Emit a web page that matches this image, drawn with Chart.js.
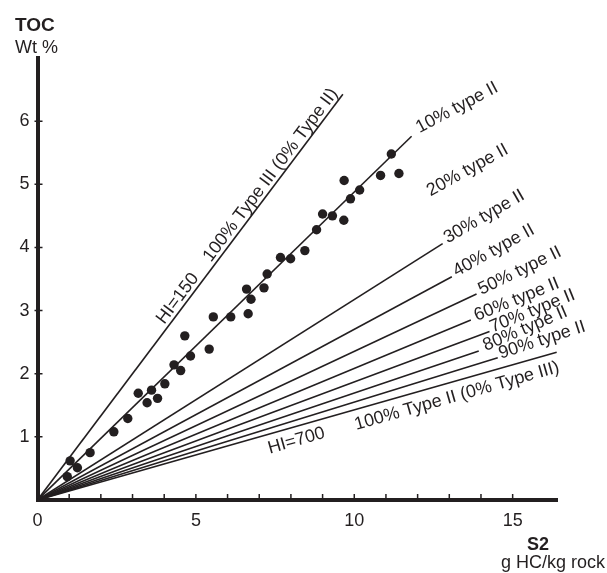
<!DOCTYPE html>
<html>
<head>
<meta charset="utf-8">
<script src="https://cdn.jsdelivr.net/npm/chart.js@4.4.1/dist/chart.umd.min.js"></script>
<style>
  body { margin: 0; background: #fff; }
</style>
</head>
<body>
<canvas id="hiChart" width="607" height="573"></canvas>
<script>
// samples: S2 (g HC/kg rock) and TOC (wt %)
const sampleS2 = [0.94, 1.03, 1.26, 1.66, 2.41, 2.85, 3.18, 3.60, 3.46, 3.79, 4.02, 4.31,
  4.52, 4.83, 4.65, 5.42, 5.55, 6.10, 6.65, 6.74, 6.60, 7.15, 7.25, 7.67, 7.99, 8.44,
  8.81, 9.00, 9.31, 9.67, 9.88, 10.17, 9.68, 10.83, 11.41, 11.17];
const sampleTOC = [0.37, 0.62, 0.51, 0.75, 1.08, 1.29, 1.69, 1.74, 1.54, 1.61, 1.84, 2.14,
  2.05, 2.28, 2.60, 2.39, 2.90, 2.90, 2.95, 3.18, 3.34, 3.36, 3.58, 3.84, 3.82, 3.95,
  4.28, 4.53, 4.50, 4.43, 4.77, 4.91, 5.06, 5.14, 5.17, 5.48];

// HI lines (mix of type II and type III kerogen) and where each one stops
const lineHI = [150, 205, 315, 370, 425, 480, 535, 590, 645, 700];
const lineEndS2 = [9.64, 11.81, 12.79, 13.08, 13.86, 13.68, 14.27, 13.93, 14.53, 16.39];

// labels at the line ends
const typeLabels = ["10% type II", "20% type II", "30% type II", "40% type II", "50% type II",
  "60% type II", "70% type II", "80% type II", "90% type II"];
const typeLabelHI = [205, 260, 315, 370, 425, 480, 535, 590, 645];
const typeLabelS2 = [11.81, 12.25, 12.79, 13.08, 13.86, 13.68, 14.27, 13.93, 14.53];

// labels running along the two outer lines
const edgeLabels = ["HI=150", "100% Type III (0% Type II)", "HI=700", "100% Type II (0% Type III)"];
const edgeLabelHI = [150, 150, 700, 700];

const xTickLabels = [0, 5, 10, 15];
const yTickLabels = [1, 2, 3, 4, 5, 6];

const FONT = '"Liberation Sans", Arial, Helvetica, sans-serif';
const INK = "#231f20";

// offsets in px, angles in degrees
const typePlacement = [
  { dx: 8, dy: -3, angle: 28 },
  { dx: 5, dy: -6, angle: 29 },
  { dx: 5, dy: 0, angle: 30 },
  { dx: 5, dy: 0, angle: 29 },
  { dx: 5, dy: 1, angle: 26 },
  { dx: 6, dy: 1, angle: 22 },
  { dx: 3, dy: 1, angle: 22 },
  { dx: 7, dy: 0, angle: 23 },
  { dx: 3, dy: 1, angle: 18 },
];
const edgePlacement = [
  { from: "start", along: 216, perp: 4, align: "left" },
  { from: "end", along: -2, perp: 4, align: "right" },
  { from: "start", along: 236, perp: -19, align: "left" },
  { from: "end", along: -2, perp: -20, align: "right" },
];

const points = sampleS2.map((s, i) => ({ x: s, y: sampleTOC[i] }));

const lineSets = lineHI.map((hi, i) => ({
  data: [{ x: 0, y: 0 }, { x: lineEndS2[i], y: lineEndS2[i] * 100 / hi }],
  showLine: true,
  borderColor: INK,
  borderWidth: 1.6,
  pointRadius: 0,
  fill: false,
}));

function px(chart, s2, toc) {
  return [chart.scales.x.getPixelForValue(s2), chart.scales.y.getPixelForValue(toc)];
}

const tickMarks = {
  id: "tickMarks",
  afterDatasetsDraw(chart) {
    const ctx = chart.ctx;
    const area = chart.chartArea;
    ctx.save();
    ctx.strokeStyle = INK;
    ctx.lineWidth = 1.5;
    ctx.beginPath();
    for (let v = 1; v <= 15; v++) {
      const x = chart.scales.x.getPixelForValue(v);
      ctx.moveTo(x, area.bottom);
      ctx.lineTo(x, area.bottom - 6);
    }
    yTickLabels.forEach((v) => {
      const y = chart.scales.y.getPixelForValue(v);
      ctx.moveTo(area.left - 3, y);
      ctx.lineTo(area.left + 5, y);
    });
    ctx.stroke();
    ctx.restore();
  },
};

const lineLabels = {
  id: "lineLabels",
  afterDatasetsDraw(chart) {
    const ctx = chart.ctx;
    ctx.save();
    ctx.fillStyle = INK;
    ctx.font = "18px " + FONT;
    ctx.textBaseline = "alphabetic";

    typeLabels.forEach((txt, i) => {
      const p = typePlacement[i];
      const [x, y] = px(chart, typeLabelS2[i], typeLabelS2[i] * 100 / typeLabelHI[i]);
      ctx.save();
      ctx.translate(x + p.dx, y + p.dy);
      ctx.rotate(-p.angle * Math.PI / 180);
      ctx.textAlign = "left";
      ctx.fillText(txt, 0, 0);
      ctx.restore();
    });

    edgeLabels.forEach((txt, i) => {
      const p = edgePlacement[i];
      const hi = edgeLabelHI[i];
      const end = lineEndS2[lineHI.indexOf(hi)];
      const [x0, y0] = px(chart, 0, 0);
      const [x1, y1] = px(chart, end, end * 100 / hi);
      const ang = Math.atan2(y1 - y0, x1 - x0);
      const len = Math.hypot(x1 - x0, y1 - y0);
      const along = p.from === "start" ? p.along : len + p.along;
      ctx.save();
      ctx.translate(x0, y0);
      ctx.rotate(ang);
      ctx.textAlign = p.align;
      ctx.fillText(txt, along, -p.perp);
      ctx.restore();
    });

    // axis titles
    ctx.textAlign = "left";
    ctx.font = "bold 19px " + FONT;
    ctx.fillText("TOC", 15, 31);
    ctx.font = "18px " + FONT;
    ctx.fillText("Wt %", 15, 53);
    ctx.textAlign = "center";
    ctx.font = "bold 18px " + FONT;
    ctx.fillText("S2", 538, 550);
    ctx.textAlign = "right";
    ctx.font = "18px " + FONT;
    ctx.fillText("g HC/kg rock", 605, 568);
    ctx.restore();
  },
};

new Chart(document.getElementById("hiChart"), {
  type: "scatter",
  data: {
    datasets: [
      ...lineSets,
      {
        data: points,
        pointRadius: 4.7,
        pointBorderWidth: 0,
        pointBackgroundColor: INK,
        pointBorderColor: INK,
      },
    ],
  },
  options: {
    responsive: false,
    animation: false,
    devicePixelRatio: 1,
    layout: { padding: { top: 58, right: 50, left: 0, bottom: 0 } },
    plugins: { legend: { display: false }, tooltip: { enabled: false } },
    scales: {
      x: {
        type: "linear",
        min: 0,
        max: 16.4,
        grid: { display: false, drawTicks: false },
        border: { display: true, width: 4, color: INK },
        ticks: {
          stepSize: 1,
          autoSkip: false,
          maxRotation: 0,
          padding: 10,
          color: INK,
          font: { family: FONT, size: 18 },
          callback: (v) => (xTickLabels.includes(v) ? String(v) : ""),
        },
        afterFit: (s) => { s.height = 73; },
      },
      y: {
        type: "linear",
        min: 0,
        max: 7,
        grid: { display: false, drawTicks: false },
        border: { display: true, width: 4, color: INK },
        ticks: {
          stepSize: 1,
          autoSkip: false,
          padding: 8,
          color: INK,
          font: { family: FONT, size: 18 },
          callback: (v) => (yTickLabels.includes(v) ? String(v) : ""),
        },
        afterFit: (s) => { s.width = 37.5; },
      },
    },
  },
  plugins: [tickMarks, lineLabels],
});
</script>
</body>
</html>
